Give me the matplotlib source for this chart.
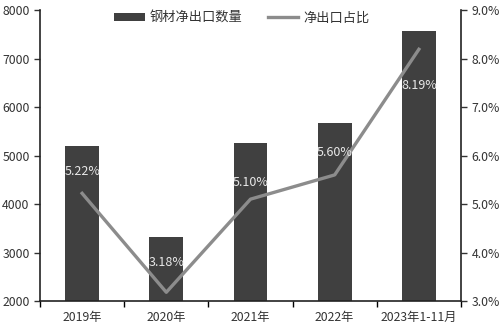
import matplotlib
matplotlib.use("Agg")
import matplotlib.pyplot as plt
import numpy as np

plt.rcParams['font.family'] = ['Noto Sans CJK SC', 'DejaVu Sans']

categories = ['2019年', '2020年', '2021年', '2022年', '2023年1-11月']
net_export = [5190, 3320, 5260, 5670, 7570]
share = [5.22, 3.18, 5.10, 5.60, 8.19]
share_labels = ['5.22%', '3.18%', '5.10%', '5.60%', '8.19%']
label_offsets = [22, 30, 17, 22, -36]  # pixel offsets of data labels

fig = plt.figure(figsize=(5, 3.28), dpi=100)
ax = fig.add_axes([0.08, 0.0823, 0.842, 0.8872])
x = np.arange(len(categories))
bars = ax.bar(x, net_export, width=0.4, color='#404040', label='钢材净出口数量', zorder=2)
ax.set_ylim(2000, 8000)
ax.set_yticks(np.arange(2000, 8001, 1000))
ax.set_xlim(-0.5, len(categories) - 0.5)
ax.set_xticks(x)
ax.set_xticklabels(categories)
ax.set_xticks(np.arange(-0.5, len(categories), 1.0), minor=True)
ax.tick_params(axis='x', which='major', length=0, labelsize=8.8, colors='#333333', pad=7)
ax.tick_params(axis='x', which='minor', length=4, direction='out', width=1)
ax.tick_params(axis='y', labelsize=8.8, colors='#333333', length=4, width=1)
for s in ['top', 'right']:
    ax.spines[s].set_visible(False)
for s in ['left', 'bottom']:
    ax.spines[s].set_color('#222222')
    ax.spines[s].set_linewidth(1.2)

ax2 = ax.twinx()
line, = ax2.plot(x, share, color='#8c8c8c', lw=2.4, label='净出口占比', zorder=3)
ax2.set_ylim(3.0, 9.0)
ax2.set_yticks(np.arange(3.0, 9.01, 1.0))
ax2.set_yticklabels([f'{v:.1f}%' for v in np.arange(3.0, 9.01, 1.0)])
ax2.tick_params(axis='y', labelsize=8.8, colors='#333333', length=4, width=1)
for s in ['top', 'left', 'bottom']:
    ax2.spines[s].set_visible(False)
ax2.spines['right'].set_color('#222222')
ax2.spines['right'].set_linewidth(1.2)

for xi, v, lab, off in zip(x, share, share_labels, label_offsets):
    ax2.annotate(lab, (xi, v), xytext=(0, off), textcoords='offset pixels',
                 ha='center', va='center', color='#e8e8e8', fontsize=9, zorder=6)

h1, l1 = ax.get_legend_handles_labels()
h2, l2 = ax2.get_legend_handles_labels()
ax2.legend(h1 + h2, l1 + l2, loc='upper center', bbox_to_anchor=(0.48, 1.035), ncol=2,
           frameon=False, fontsize=9.5, handlelength=2.3, handleheight=0.6,
           handletextpad=0.4, columnspacing=1.9, labelcolor='#333333')

fig.savefig('out.png', dpi=100)
